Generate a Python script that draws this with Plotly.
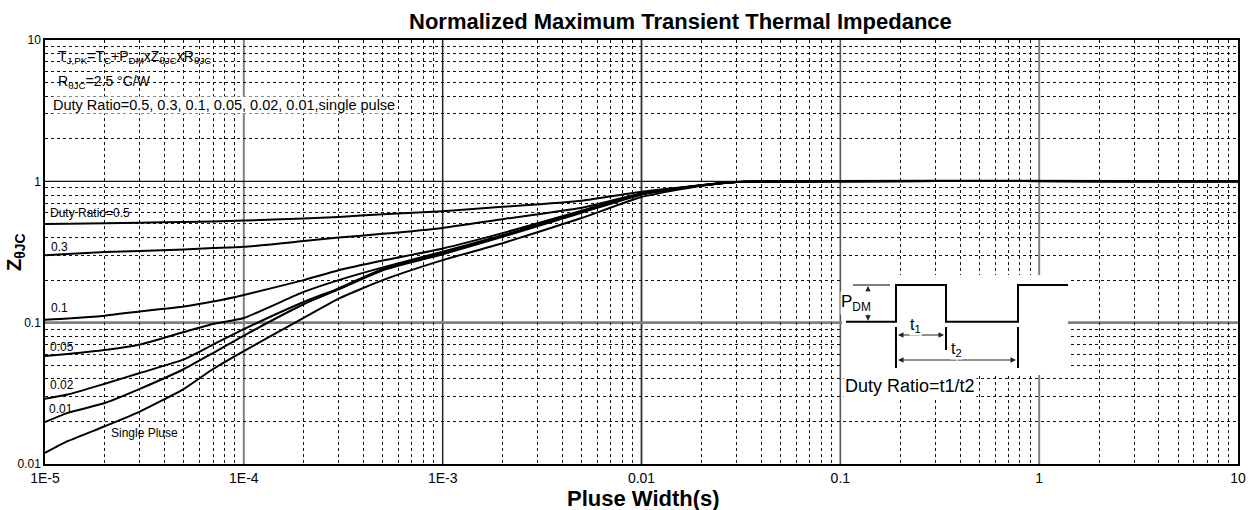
import math
import plotly.graph_objects as go

# Pulse width (s) sample points shared by every curve
pulse_width = [1e-5, 1.3e-5, 2e-5, 3e-5, 5e-5, 7e-5, 1e-4, 2e-4, 3e-4, 5e-4,
               1e-3, 2e-3, 5e-3, 1e-2, 2e-2, 3e-2, 10]

# Normalized thermal impedance per duty ratio
z_d050 = [0.50, 0.502, 0.505, 0.51, 0.515, 0.52, 0.528, 0.545, 0.56, 0.585,
          0.614, 0.66, 0.73, 0.845, 0.94, 0.99, 1.0]
z_d030 = [0.30, 0.306, 0.316, 0.322, 0.33, 0.337, 0.344, 0.378, 0.40, 0.425,
          0.468, 0.54, 0.65, 0.82, 0.94, 0.99, 1.0]
z_d010 = [0.105, 0.107, 0.112, 0.12, 0.13, 0.141, 0.157, 0.20, 0.235, 0.275,
          0.335, 0.43, 0.62, 0.82, 0.94, 0.99, 1.0]
z_d005 = [0.058, 0.06, 0.064, 0.07, 0.086, 0.098, 0.108, 0.165, 0.20, 0.246,
          0.318, 0.415, 0.61, 0.815, 0.935, 0.99, 1.0]
z_d002 = [0.029, 0.031, 0.037, 0.044, 0.055, 0.07, 0.09, 0.14, 0.175, 0.24,
          0.31, 0.41, 0.61, 0.81, 0.935, 0.99, 1.0]
z_d001 = [0.0198, 0.023, 0.027, 0.034, 0.047, 0.061, 0.081, 0.135, 0.172, 0.235,
          0.305, 0.405, 0.60, 0.805, 0.935, 0.99, 1.0]
z_single = [0.012, 0.0145, 0.0185, 0.0235, 0.034, 0.047, 0.063, 0.108, 0.148, 0.20,
            0.277, 0.365, 0.55, 0.775, 0.93, 0.99, 1.0]

series = [z_d050, z_d030, z_d010, z_d005, z_d002, z_d001, z_single]

# Curve labels: text, left x (s), centre y
curve_labels = ["Duty Ratio=0.5", "0.3", "0.1", "0.05", "0.02", "0.01", "Single Pluse"]
label_x = [1.04e-5, 1.05e-5, 1.05e-5, 1.04e-5, 1.03e-5, 1.02e-5, 2.1e-5]
label_y = [0.60, 0.344, 0.128, 0.067, 0.036, 0.0245, 0.0165]

x_tick_vals = [1e-5, 1e-4, 1e-3, 1e-2, 1e-1, 1, 10]
x_tick_text = ["1E-5", "1E-4", "1E-3", "0.01", "0.1", "1", "10"]
y_tick_vals = [0.01, 0.1, 1, 10]
y_tick_text = ["0.01", "0.1", "1", "10"]

W, H = 1255, 510
ML, MR, MT, MB = 45, 17, 40, 46
PW, PH = W - ML - MR, H - MT - MB
FONT = "Arial"


def px(x):
    return (x - ML) / PW


def py(y):
    return (H - MB - y) / PH


fig = go.Figure()
for ys in series:
    fig.add_trace(go.Scatter(x=pulse_width, y=ys, mode="lines",
                             line=dict(color="black", width=2, shape="spline", smoothing=0.5),
                             showlegend=False, hoverinfo="skip"))

annotations = []
for txt, lx, ly in zip(curve_labels, label_x, label_y):
    # annotation positions on log axes are given in log10 units
    annotations.append(dict(x=math.log10(lx), y=math.log10(ly), xref="x", yref="y", text=txt,
                            showarrow=False, xanchor="left", yanchor="middle", align="left",
                            font=dict(size=12, color="black", family=FONT)))

# Formula block, top left
annotations += [
    dict(x=px(56), y=py(57), xref="paper", yref="paper", xanchor="left", yanchor="middle",
         showarrow=False, font=dict(size=14, family=FONT, color="black"),
         text="T<sub>J,PK</sub>=T<sub>C</sub>+P<sub>DM</sub>xZ<sub>θJC</sub>xR<sub>θJC</sub>"),
    dict(x=px(56), y=py(82), xref="paper", yref="paper", xanchor="left", yanchor="middle",
         showarrow=False, font=dict(size=14, family=FONT, color="black"),
         text="R<sub>θJC</sub>=2.5 °C/W"),
    dict(x=px(52), y=py(105), xref="paper", yref="paper", xanchor="left", yanchor="middle",
         showarrow=False, font=dict(size=14.5, family=FONT, color="black"), bgcolor="white",
         borderpad=0,
         text="Duty Ratio=0.5, 0.3, 0.1, 0.05, 0.02, 0.01,single pulse"),
]

# Decade grid lines with their individual weights
shapes = []
x_major_style = [("#808080", 2), ("#222222", 1.5), ("#333333", 1.8), ("#555555", 1.6), ("#808080", 2)]
for xv, (col, wd) in zip([1e-4, 1e-3, 1e-2, 1e-1, 1], x_major_style):
    shapes.append(dict(type="line", xref="x", yref="paper", x0=xv, x1=xv, y0=0, y1=1,
                       line=dict(color=col, width=wd), layer="between"))
for yv, (col, wd) in zip([1, 0.1], [("#111111", 1.2), ("#808080", 2.6)]):
    shapes.append(dict(type="line", xref="paper", yref="y", x0=0, x1=1, y0=yv, y1=yv,
                       line=dict(color=col, width=wd), layer="between"))

# Pulse waveform inset
shapes.append(dict(type="rect", xref="paper", yref="paper", x0=px(842), x1=px(1068),
                   y0=py(375), y1=py(275), fillcolor="white", line=dict(width=0), layer="above"))
wave = [(846, 321.7), (896, 321.7), (896, 285), (946, 285), (946, 321.7),
        (1018, 321.7), (1018, 285), (1068, 285)]
path = "M " + " L ".join(f"{px(a):.5f},{py(b):.5f}" for a, b in wave)
shapes.append(dict(type="path", xref="paper", yref="paper", path=path,
                   line=dict(color="black", width=2), layer="above"))
shapes.append(dict(type="line", xref="paper", yref="paper", x0=px(853), x1=px(890),
                   y0=py(285), y1=py(285), line=dict(color="black", width=1.2), layer="above"))
for xb, yb in [(896, 368), (946, 350), (1018, 368)]:
    shapes.append(dict(type="line", xref="paper", yref="paper", x0=px(xb), x1=px(xb),
                       y0=py(327), y1=py(yb), line=dict(color="black", width=2), layer="above"))


def arrow(hx, hy, dx, dy):
    return dict(x=px(hx), y=py(hy), xref="paper", yref="paper", ax=dx, ay=dy,
                axref="pixel", ayref="pixel", text="", showarrow=True, arrowhead=2,
                arrowsize=1, arrowwidth=1.1, arrowcolor="#222")


annotations += [
    arrow(868, 286, 0, 17), arrow(868, 320.7, 0, -17),
    arrow(898, 335, 24, 0), arrow(944, 335, -24, 0),
    arrow(898, 360, 60, 0), arrow(1016, 360, -60, 0),
    dict(x=px(872), y=py(303), xref="paper", yref="paper", showarrow=False,
         text="P<sub>DM</sub>", font=dict(size=17, family=FONT, color="black"),
         bgcolor="white", borderpad=0),
    dict(x=px(922), y=py(336), xref="paper", yref="paper", showarrow=False,
         text="t<sub>1</sub>", font=dict(size=16, family=FONT, color="black"),
         bgcolor="white", borderpad=0),
    dict(x=px(963), y=py(360), xref="paper", yref="paper", showarrow=False,
         text="t<sub>2</sub>", font=dict(size=16, family=FONT, color="black"),
         bgcolor="white", borderpad=0),
    dict(x=px(843), y=py(386), xref="paper", yref="paper", xanchor="left", yanchor="middle",
         showarrow=False, text="Duty Ratio=t1/t2", font=dict(size=18, family=FONT, color="black"),
         bgcolor="white", borderpad=1),
    # axis titles
    dict(x=px(643), y=py(498), xref="paper", yref="paper", xanchor="center", yanchor="middle",
         showarrow=False, text="<b>Pluse Width(s)</b>",
         font=dict(size=22, family=FONT, color="black")),
    dict(x=px(15), y=py(252), xref="paper", yref="paper", xanchor="center", yanchor="middle",
         showarrow=False, text="<b>Z<sub>θJC</sub></b>", textangle=-90,
         font=dict(size=20, family=FONT, color="black")),
    # chart title
    dict(x=px(680), y=py(21), xref="paper", yref="paper", xanchor="center", yanchor="middle",
         showarrow=False, text="<b>Normalized Maximum Transient Thermal Impedance</b>",
         font=dict(size=22, family=FONT, color="black")),
]

minor_vals = [k * 10.0 ** e for e in range(-5, 1) for k in range(2, 10)]
minor_y = [k * 10.0 ** e for e in range(-2, 1) for k in range(2, 10)]

fig.update_layout(
    width=W, height=H,
    margin=dict(l=ML, r=MR, t=MT, b=MB, autoexpand=False),
    paper_bgcolor="white", plot_bgcolor="white",
    xaxis=dict(type="log", range=[-5, 1], tickmode="array", tickvals=x_tick_vals,
               ticktext=x_tick_text, ticks="", showline=True, linecolor="black", linewidth=1.5,
               mirror=True, showgrid=False, zeroline=False, automargin=False,
               tickfont=dict(size=14, family=FONT, color="black"),
               minor=dict(tickvals=minor_vals, showgrid=True, griddash="dot",
                          gridcolor="#111", gridwidth=1, ticks="")),
    yaxis=dict(type="log", range=[-2, 1], tickmode="array", tickvals=y_tick_vals,
               ticktext=y_tick_text, ticks="", showline=True, linecolor="black", linewidth=1.5,
               mirror=True, showgrid=False, zeroline=False, automargin=False,
               tickfont=dict(size=12, family=FONT, color="black"),
               minor=dict(tickvals=minor_y, showgrid=True, griddash="dot",
                          gridcolor="#111", gridwidth=1, ticks="")),
    annotations=annotations,
    shapes=shapes,
)

fig.write_html("out.html")
